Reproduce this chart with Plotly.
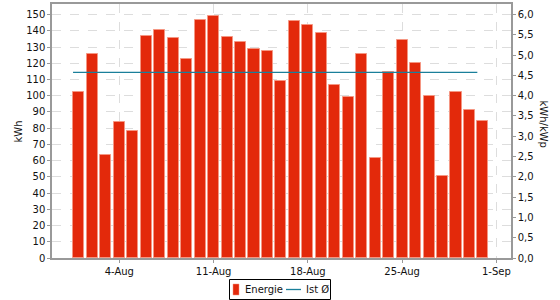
import pandas as pd
import plotly.graph_objects as go

dates = pd.date_range("2025-08-01", "2025-08-31", freq="D")
energie = [102.3, 125.7, 63.7, 83.6, 78.2, 136.8, 140.3, 135.5, 122.4, 146.4,
           149.1, 136.4, 132.9, 128.6, 127.5, 109.2, 146.0, 143.4, 138.4, 106.8,
           99.0, 125.5, 61.6, 114.4, 134.3, 119.9, 99.6, 50.5, 102.1, 91.2, 84.2]
avg_x = ["2025-07-31 13:30", "2025-08-30 14:00"]
avg_y = [114.4, 114.4]
kwp = 25.0
series_names = ["Energie", "Ist Ø"]
bar_color = "#e3290b"
line_color = "#1a7f9a"

W, H = 560, 300
L, R, T, B = 52, 49, 4, 42
PW, PH = W - L - R, H - T - B
FS = 10


def px(x):
    return (x - L) / PW


def py(y):
    return (H - B - y) / PH


fig = go.Figure()
fig.add_trace(go.Bar(
    x=dates, y=energie, name=series_names[0],
    width=0.82 * 86400000,
    marker=dict(color=bar_color, line=dict(color="rgba(245,150,130,1)", width=1)),
))
fig.add_trace(go.Scatter(
    x=avg_x, y=avg_y, mode="lines", name=series_names[1],
    line=dict(color=line_color, width=1.3),
))
fig.add_trace(go.Scatter(x=[dates[0]], y=[0], yaxis="y2", showlegend=False,
                         mode="markers", marker=dict(opacity=0), hoverinfo="skip"))

ymax = 156.5
fig.update_layout(
    width=W, height=H,
    margin=dict(l=L, r=R, t=T, b=B, autoexpand=False),
    paper_bgcolor="white", plot_bgcolor="white",
    separators=",.",
    font=dict(family="DejaVu Sans", size=FS, color="#111"),
    bargap=0,
    showlegend=False,
    xaxis=dict(
        type="date", range=["2025-07-30 00:00", "2025-09-02 02:00"],
        tick0="2025-08-04", dtick=7 * 86400000, tickformat="%-d-%b",
        showgrid=True, gridcolor="#dddddd", griddash="dash", gridwidth=1,
        showline=True, linecolor="#999999", linewidth=1.5, mirror=True,
        ticks="outside", ticklen=3, tickcolor="#999999", zeroline=False,
    ),
    yaxis=dict(
        range=[0, ymax], dtick=10, tick0=0,
        showgrid=True, gridcolor="#dddddd", griddash="dash", gridwidth=1,
        showline=True, linecolor="#999999", linewidth=1.5,
        ticks="outside", ticklen=3, tickcolor="#999999", zeroline=False,
    ),
    yaxis2=dict(
        overlaying="y", side="right", range=[0, ymax / kwp], dtick=0.5, tick0=0,
        tickformat=".1f", showgrid=False,
        showline=True, linecolor="#999999", linewidth=1.5,
        ticks="outside", ticklen=3, tickcolor="#999999", zeroline=False,
    ),
)
fig.add_annotation(text="kWh", xref="paper", yref="paper", x=px(17.5), y=py(132),
                   textangle=-90, showarrow=False, font=dict(size=FS),
                   xanchor="center", yanchor="middle")
fig.add_annotation(text="kWh/kWp", xref="paper", yref="paper", x=px(543.5), y=py(124),
                   textangle=90, showarrow=False, font=dict(size=FS),
                   xanchor="center", yanchor="middle")

# legend (drawn manually to match compact box)
fig.add_shape(type="rect", xref="paper", yref="paper",
              x0=px(229.5), x1=px(330.5), y0=py(279.5), y1=py(299.5),
              line=dict(color="black", width=1), fillcolor="white", layer="above")
fig.add_shape(type="rect", xref="paper", yref="paper",
              x0=px(233), x1=px(239), y0=py(284), y1=py(295),
              line=dict(color="rgba(245,150,130,1)", width=0.5), fillcolor=bar_color, layer="above")
fig.add_annotation(text=series_names[0], xref="paper", yref="paper", x=px(242.5), y=py(289.5),
                   xanchor="left", yanchor="middle", showarrow=False, font=dict(size=FS))
fig.add_shape(type="line", xref="paper", yref="paper",
              x0=px(286), x1=px(301), y0=py(289.5), y1=py(289.5),
              line=dict(color=line_color, width=1.3), layer="above")
fig.add_annotation(text=series_names[1], xref="paper", yref="paper", x=px(303.5), y=py(289.5),
                   xanchor="left", yanchor="middle", showarrow=False, font=dict(size=FS))

fig.write_html("out.html")
